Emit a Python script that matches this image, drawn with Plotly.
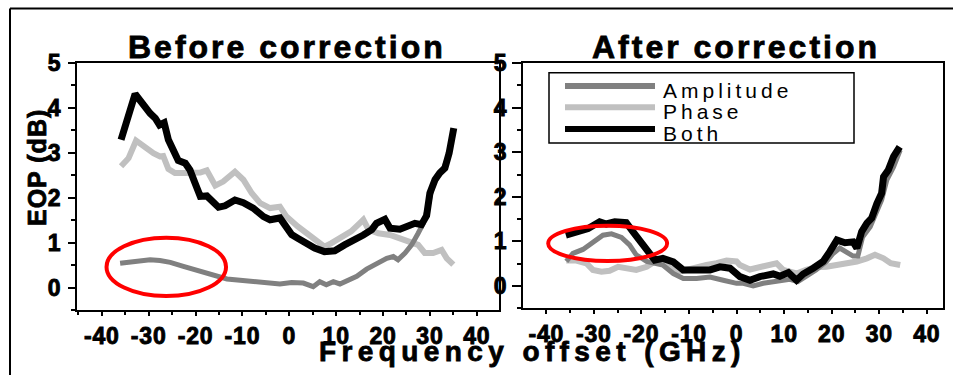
import plotly.graph_objects as go

W, H = 953, 375

# ---------------- data ----------------
# Before correction
before_amp_x = [-36.1,-34.0,-31.8,-29.7,-27.6,-25.4,-22.6,-19.7,-17.6,-15.5,-13.3,-10.5,-6.2,-2.0,0.5,3.0,5.1,6.5,7.9,9.4,10.8,13.0,14.4,16.5,18.6,20.8,22.2,23.2,24.7,26.1,27.5,28.6,29.6,30.4,31.4,32.8,33.9,34.6,35.1]
before_amp_y = [0.54,0.56,0.60,0.62,0.60,0.56,0.47,0.39,0.33,0.25,0.19,0.16,0.13,0.08,0.11,0.10,0.02,0.13,0.06,0.13,0.08,0.17,0.25,0.41,0.54,0.65,0.69,0.62,0.77,0.95,1.21,1.43,1.80,2.18,2.47,2.62,2.92,3.22,3.51]

before_phase_x = [-35.9,-34.3,-32.7,-31.1,-29.0,-27.6,-26.9,-25.8,-24.4,-22.2,-20.5,-19.0,-17.6,-15.8,-14.1,-11.6,-9.8,-8.0,-6.2,-4.1,-2.0,-0.6,1.8,3.6,5.4,7.5,9.0,11.1,13.2,15.0,15.8,16.9,19.0,21.5,23.6,25.7,27.5,28.9,30.7,32.5,33.6,35.0]
before_phase_y = [2.70,2.88,3.27,3.14,2.99,2.92,2.93,2.64,2.55,2.55,2.55,2.56,2.61,2.27,2.36,2.58,2.40,2.10,1.88,1.77,1.80,1.58,1.36,1.21,1.06,0.91,0.99,1.14,1.25,1.43,1.51,1.29,1.21,1.17,1.10,1.02,0.95,0.77,0.77,0.84,0.65,0.51]

before_both_x = [-35.9,-32.9,-29.7,-28.6,-27.7,-26.7,-25.8,-24.7,-23.7,-22.2,-21.2,-20.1,-19.0,-17.6,-16.5,-15.1,-13.7,-11.6,-9.8,-7.7,-5.5,-4.1,-2.0,-0.6,0.5,1.8,3.6,5.4,7.5,9.7,11.8,14.0,15.8,17.6,18.6,20.4,21.5,23.6,25.4,26.8,28.2,29.3,30.0,31.1,32.1,33.2,34.1,34.6,35.1]
before_both_y = [3.29,4.31,3.88,3.77,3.62,3.67,3.29,3.03,2.83,2.77,2.62,2.32,2.03,2.04,1.92,1.79,1.82,1.95,1.89,1.77,1.58,1.51,1.55,1.32,1.18,1.10,0.99,0.88,0.80,0.82,0.95,1.06,1.17,1.29,1.43,1.52,1.32,1.30,1.36,1.43,1.40,1.60,2.10,2.40,2.55,2.66,2.99,3.25,3.55]

# After correction
after_amp_x = [-35.8,-34.4,-32.3,-30.2,-28.1,-26.3,-24.2,-22.5,-21.1,-18.9,-16.8,-15.5,-13.3,-11.2,-8.4,-5.6,-2.8,0.0,1.4,3.5,5.6,8.4,11.2,12.9,14.6,16.7,18.9,20.3,21.7,23.2,24.5,25.5,26.5,28.1,29.5,30.5,31.6,33.0,34.4]
after_amp_y = [0.55,0.73,0.82,0.99,1.14,1.17,1.09,0.92,0.70,0.55,0.51,0.47,0.28,0.17,0.17,0.20,0.13,0.06,0.06,0.00,0.06,0.10,0.15,0.10,0.21,0.36,0.55,0.73,0.85,0.77,0.67,0.67,1.10,1.33,1.70,1.93,2.38,2.67,3.05]

after_phase_x = [-35.8,-33.7,-31.6,-30.2,-28.4,-26.7,-24.9,-22.8,-21.1,-18.9,-17.2,-15.1,-12.6,-10.5,-8.4,-6.3,-4.2,-2.1,0.0,0.7,2.8,4.9,7.0,8.4,9.8,12.6,14.6,16.7,18.9,21.1,23.2,25.3,27.4,29.1,30.9,32.4,34.4]
after_phase_y = [0.57,0.57,0.51,0.36,0.32,0.34,0.43,0.40,0.36,0.43,0.55,0.51,0.32,0.36,0.43,0.47,0.51,0.57,0.55,0.47,0.37,0.42,0.47,0.51,0.36,0.28,0.36,0.42,0.43,0.47,0.51,0.55,0.62,0.70,0.62,0.51,0.47]

after_both_x = [-35.9,-33.7,-31.2,-28.8,-27.4,-25.6,-23.2,-21.8,-20.4,-18.9,-17.2,-15.5,-13.3,-11.2,-8.4,-5.6,-3.5,-1.4,0.7,2.8,4.9,7.7,9.1,10.9,12.6,14.0,16.1,18.2,19.6,21.1,22.8,24.5,25.3,26.3,27.4,28.4,29.5,30.5,30.9,31.9,33.0,34.3]
after_both_y = [1.14,1.20,1.29,1.44,1.39,1.44,1.42,1.22,1.03,0.81,0.58,0.62,0.54,0.36,0.36,0.36,0.43,0.40,0.21,0.13,0.21,0.27,0.22,0.30,0.13,0.27,0.40,0.55,0.77,1.03,0.97,0.99,0.85,1.22,1.41,1.52,1.85,2.08,2.45,2.60,2.90,3.12]

series_names = ["Amplitude", "Phase", "Both"]
x_tick_vals = [-40, -30, -20, -10, 0, 10, 20, 30, 40]
y_tick_vals = [0, 1, 2, 3, 4, 5]
panel_titles = ["Before correction", "After correction"]
x_title = "Frequency offset (GHz)"
y_title = "EOP (dB)"

# highlighted regions (data coords): x0, x1, y0, y1
before_ellipse = [-39.0, -13.5, -0.19, 1.11]
after_ellipse = [-39.6, -14.6, 0.56, 1.35]

# ---------------- styles ----------------
FONT = "Liberation Sans, Arial, Helvetica, sans-serif"
col = {"Amplitude": "#808080", "Phase": "#c0c0c0", "Both": "#000000"}
wid = {"Amplitude": 5, "Phase": 6, "Both": 7}

def px(x):
    return x / W

def py(y):
    return 1 - y / H

def spaced(t, ls, stroke=0):
    st = "letter-spacing:%spx" % ls
    if stroke:
        st += ";stroke:black;stroke-width:%spx" % stroke
    return '<span style="%s">%s</span>' % (st, t)

def bold_ticks(vals, ls=0.8):
    return ['<b>' + spaced(str(v), ls, 0.9) + '</b>' for v in vals]

fig = go.Figure()

panels = [
    ("x", "y", {"Amplitude": (before_amp_x, before_amp_y), "Phase": (before_phase_x, before_phase_y), "Both": (before_both_x, before_both_y)}),
    ("x2", "y2", {"Amplitude": (after_amp_x, after_amp_y), "Phase": (after_phase_x, after_phase_y), "Both": (after_both_x, after_both_y)}),
]
for xa, ya, d in panels:
    for name in ["Phase", "Amplitude", "Both"]:
        xs, ys = d[name]
        fig.add_trace(go.Scatter(x=xs, y=ys, mode="lines", name=name, xaxis=xa, yaxis=ya,
                                 showlegend=False,
                                 line=dict(color=col[name], width=wid[name])))

tickfont = dict(family=FONT, size=23, color="black")
axis_common = dict(showgrid=False, zeroline=False, showline=True, linecolor="black", linewidth=2,
                   mirror=True, ticks="outside", tickcolor="black", tickwidth=2,
                   tickfont=tickfont, automargin=False)
xminor = dict(dtick=5, tick0=0, ticklen=3, tickwidth=2, tickcolor="black", ticks="outside")
yminor = dict(dtick=0.5, tick0=0, ticklen=4, tickwidth=2, tickcolor="black", ticks="outside")

fig.update_layout(
    width=W, height=H, margin=dict(l=0, r=0, t=0, b=0, autoexpand=False),
    paper_bgcolor="white", plot_bgcolor="white", showlegend=False,
    xaxis=dict(domain=[px(77), px(499)], range=[-45.3, 44.75], anchor="y", tickvals=x_tick_vals,
               ticktext=bold_ticks(x_tick_vals), ticklen=4, ticklabelstandoff=0, minor=xminor, **axis_common),
    yaxis=dict(domain=[py(310), py(63)], range=[-0.5, 5], anchor="x", tickvals=y_tick_vals,
               ticktext=bold_ticks(y_tick_vals), ticklen=7, ticklabelstandoff=2, minor=yminor, **axis_common),
    xaxis2=dict(domain=[px(523), px(943)], range=[-44.9, 43.4], anchor="y2", tickvals=x_tick_vals,
                ticktext=bold_ticks(x_tick_vals), ticklen=4, ticklabelstandoff=0, minor=xminor, **axis_common),
    yaxis2=dict(domain=[py(308.3), py(63)], range=[-0.5, 5], anchor="x2", tickvals=y_tick_vals,
                ticktext=bold_ticks(y_tick_vals), ticklen=9, ticklabelstandoff=0, minor=yminor, **axis_common),
)

shapes = []
# outer frame lines
shapes.append(dict(type="line", xref="paper", yref="paper", x0=px(10), x1=1, y0=py(8.5), y1=py(8.5),
                   line=dict(color="black", width=2)))
shapes.append(dict(type="line", xref="paper", yref="paper", x0=px(10), x1=px(10), y0=py(8.5), y1=0,
                   line=dict(color="black", width=2)))
# red ellipses
for (xr, yr), e in [(("x", "y"), before_ellipse), (("x2", "y2"), after_ellipse)]:
    shapes.append(dict(type="circle", xref=xr, yref=yr, x0=e[0], x1=e[1], y0=e[2], y1=e[3],
                       line=dict(color="#ff0000", width=4), layer="above"))
# legend box
shapes.append(dict(type="rect", xref="paper", yref="paper", x0=px(549), x1=px(854), y0=py(143), y1=py(72.7),
                   line=dict(color="black", width=1.5), fillcolor="white", layer="above"))
legend_y = [86, 107.3, 129]
for name, ly in zip(series_names, legend_y):
    shapes.append(dict(type="line", xref="paper", yref="paper", x0=px(565), x1=px(655), y0=py(ly), y1=py(ly),
                       line=dict(color=col[name], width=6), layer="above"))
fig.update_layout(shapes=shapes)

ann = []
for name, ly in zip(series_names, legend_y):
    ann.append(dict(text=spaced(name, 4), xref="paper", yref="paper", x=px(661), y=py(ly + 4.5),
                    xanchor="left", yanchor="middle", showarrow=False,
                    font=dict(family=FONT, size=21, color="black")))
for t, cx in zip(panel_titles, [286.5, 735.5]):
    ann.append(dict(text="<b>" + spaced(t, 3.0, 0.8) + "</b>", xref="paper", yref="paper", x=px(cx), y=py(47),
                    xanchor="center", yanchor="middle", showarrow=False,
                    font=dict(family=FONT, size=32, color="black")))
ann.append(dict(text="<b>" + spaced(x_title, 5.4, 0.8) + "</b>", xref="paper", yref="paper", x=px(532), y=py(351),
                xanchor="center", yanchor="middle", showarrow=False,
                font=dict(family=FONT, size=28, color="black")))
ann.append(dict(text="<b>" + spaced(y_title, 1.0, 0.8) + "</b>", xref="paper", yref="paper", x=px(37), y=py(168),
                xanchor="center", yanchor="middle", showarrow=False, textangle=-90,
                font=dict(family=FONT, size=25, color="black")))
fig.update_layout(annotations=ann)

fig.write_html("out.html")
